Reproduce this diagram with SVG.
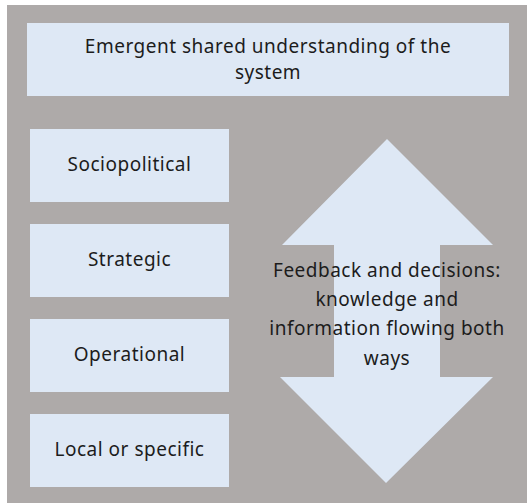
<svg xmlns="http://www.w3.org/2000/svg" width="527" height="503" viewBox="0 0 527 503">
<style>
.box{fill:#dee8f5}
.t{font-family:"Noto Sans","DejaVu Sans",sans-serif;font-size:19px;letter-spacing:0.5px;fill:#1c1c1c;text-anchor:middle}
</style>
<rect x="0" y="0" width="527" height="503" fill="#ffffff"/>
<rect x="7" y="5" width="520" height="498" fill="#aeaaa9"/>
<g id="arrow">
<polygon class="box" points="387,139 493,245 440,245 440,377 493,377 386,483 280,377 334,377 334,245 282,245"/>
</g>
<g id="top">
<rect class="box" x="27" y="23" width="482" height="73"/>
<text class="t" x="268" y="53">Emergent shared understanding of the</text>
<text class="t" x="268" y="79">system</text>
</g>
<g id="sociopolitical">
<rect class="box" x="30" y="129" width="199" height="73"/>
<text class="t" x="129.5" y="171">Sociopolitical</text>
</g>
<g id="strategic">
<rect class="box" x="30" y="224" width="199" height="73"/>
<text class="t" x="129.5" y="266">Strategic</text>
</g>
<g id="operational">
<rect class="box" x="30" y="319" width="199" height="73"/>
<text class="t" x="129.5" y="361">Operational</text>
</g>
<g id="local">
<rect class="box" x="30" y="414" width="199" height="73"/>
<text class="t" x="129.5" y="456">Local or specific</text>
</g>
<g id="arrowlabel">
<text class="t" x="387" y="277">Feedback and decisions:</text>
<text class="t" x="387" y="306">knowledge and</text>
<text class="t" x="387" y="335">information flowing both</text>
<text class="t" x="387" y="365">ways</text>
</g>
<g id="connectors"/>
</svg>
